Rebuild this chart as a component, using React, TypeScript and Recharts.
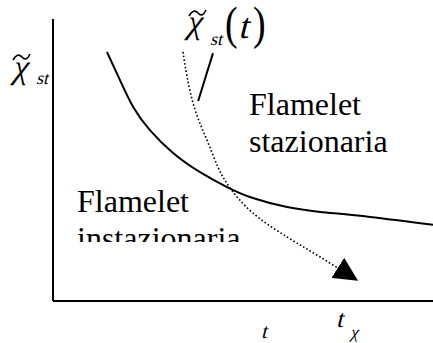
import React from "react";
import {
  ComposedChart,
  Line,
  XAxis,
  YAxis,
  ReferenceLine,
} from "recharts";

// Steady flamelet boundary: critical scalar dissipation vs time
const steadyT = [1.42, 1.76, 2.11, 2.55, 3.16, 3.87, 4.58, 5.26, 6.16, 7.03, 8.34, 10.0];
const steadyChi = [8.83, 7.84, 6.88, 6.06, 5.25, 4.57, 4.04, 3.65, 3.33, 3.16, 2.98, 2.7];

// Time-dependent scalar dissipation path chi_st(t)
const pathT = [3.42, 3.53, 3.74, 4.05, 4.34, 4.66, 5.26, 6.16, 7.03, 8.0];
const pathChi = [8.83, 7.94, 6.77, 5.71, 4.75, 4.01, 3.12, 2.27, 1.56, 0.74];

// Leader from the chi_st(t) label to its curve
const leaderT = [4.21, 3.82];
const leaderChi = [8.79, 7.09];

// Time axis markers
const tickValues = [5.55, 7.63];
const tickNames = ["t", "tchi"];

const steadyData = steadyT.map((t, i) => ({ t, chi: steadyChi[i] }));
const pathData = pathT.map((t, i) => ({ t, chi: pathChi[i] }));
const leader = leaderT.map((t, i) => ({ x: t, y: leaderChi[i] }));

const SERIF = "'Liberation Serif', 'Times New Roman', serif";

// Slanted serif glyphs for math symbols
const MathText = ({ x, y, size, children, upright, stretch }: any) => (
  <text
    transform={`translate(${x},${y})${upright ? "" : " skewX(-14)"}${stretch ? ` scale(1,${stretch})` : ""}`}
    fontFamily={SERIF}
    fontSize={size}
    fill="#000"
  >
    {children}
  </text>
);

const TimeTick = (props: any) => {
  const { x, y, payload } = props;
  const idx = tickValues.indexOf(payload.value);
  const name = tickNames[idx];
  if (name === "t") {
    return <MathText x={x - 3} y={y + 29} size={21}>t</MathText>;
  }
  return (
    <g>
      <MathText x={x - 7} y={y + 18} size={25}>t</MathText>
      <MathText x={x + 7} y={y + 29} size={18}>χ</MathText>
    </g>
  );
};

export default function App() {
  return (
    <div style={{ position: "absolute", left: 0, top: 0, background: "#fff" }}>
      <ComposedChart
        width={433}
        height={343}
        margin={{ top: 19, right: 0, bottom: 0, left: 0 }}
      >
        <defs>
          <marker
            id="arrowHead"
            markerUnits="userSpaceOnUse"
            markerWidth={24}
            markerHeight={24}
            viewBox="0 0 20 20"
            refX={19}
            refY={10}
            orient="auto"
          >
            <path d="M0,0 L20,10 L0,20 Z" fill="#000" />
          </marker>
          <clipPath id="lowerLabelClip">
            <rect x={0} y={0} width={433} height={242} />
          </clipPath>
        </defs>
        <XAxis
          type="number"
          dataKey="t"
          domain={[0, 10]}
          ticks={tickValues}
          tick={<TimeTick />}
          tickLine={false}
          axisLine={{ stroke: "#000", strokeWidth: 2 }}
          height={42}
          allowDataOverflow
        />
        <YAxis
          type="number"
          dataKey="chi"
          domain={[0, 10]}
          tick={false}
          tickLine={false}
          axisLine={{ stroke: "#000", strokeWidth: 2 }}
          width={53}
          allowDataOverflow
        />
        <Line
          data={steadyData}
          dataKey="chi"
          type="natural"
          stroke="#000"
          strokeWidth={2}
          dot={false}
          isAnimationActive={false}
        />
        <Line
          data={pathData}
          dataKey="chi"
          type="natural"
          stroke="#000"
          strokeWidth={1.6}
          strokeDasharray="1.6 2.2"
          dot={false}
          markerEnd="url(#arrowHead)"
          isAnimationActive={false}
        />
        <ReferenceLine segment={leader} stroke="#000" strokeWidth={2} ifOverflow="visible" />

        {/* y-axis symbol */}
        <g>
          <path d="M13,60 Q17.5,52 22,57 T30,54" stroke="#000" strokeWidth={1.6} fill="none" />
          <MathText x={12} y={78} size={34}>χ</MathText>
          <MathText x={36} y={84} size={18}>st</MathText>
        </g>

        {/* chi_st(t) label */}
        <g>
          <path d="M189,16 Q193.5,8 198,13 T206,10" stroke="#000" strokeWidth={1.6} fill="none" />
          <MathText x={186} y={33} size={34}>χ</MathText>
          <MathText x={210} y={45} size={18}>st</MathText>
          <MathText x={225} y={39} size={38} stretch={1.2} upright>(</MathText>
          <MathText x={238} y={38} size={36}>t</MathText>
          <MathText x={253} y={39} size={38} stretch={1.2} upright>)</MathText>
        </g>

        {/* region labels */}
        <text fontFamily={SERIF} fontSize={32} fill="#000">
          <tspan x={249} y={115}>Flamelet</tspan>
          <tspan x={249} y={152}>stazionaria</tspan>
        </text>
        <g clipPath="url(#lowerLabelClip)">
          <text fontFamily={SERIF} fontSize={32} fill="#000">
            <tspan x={77} y={212}>Flamelet</tspan>
            <tspan x={77} y={249}>instazionaria</tspan>
          </text>
        </g>
      </ComposedChart>
    </div>
  );
}
